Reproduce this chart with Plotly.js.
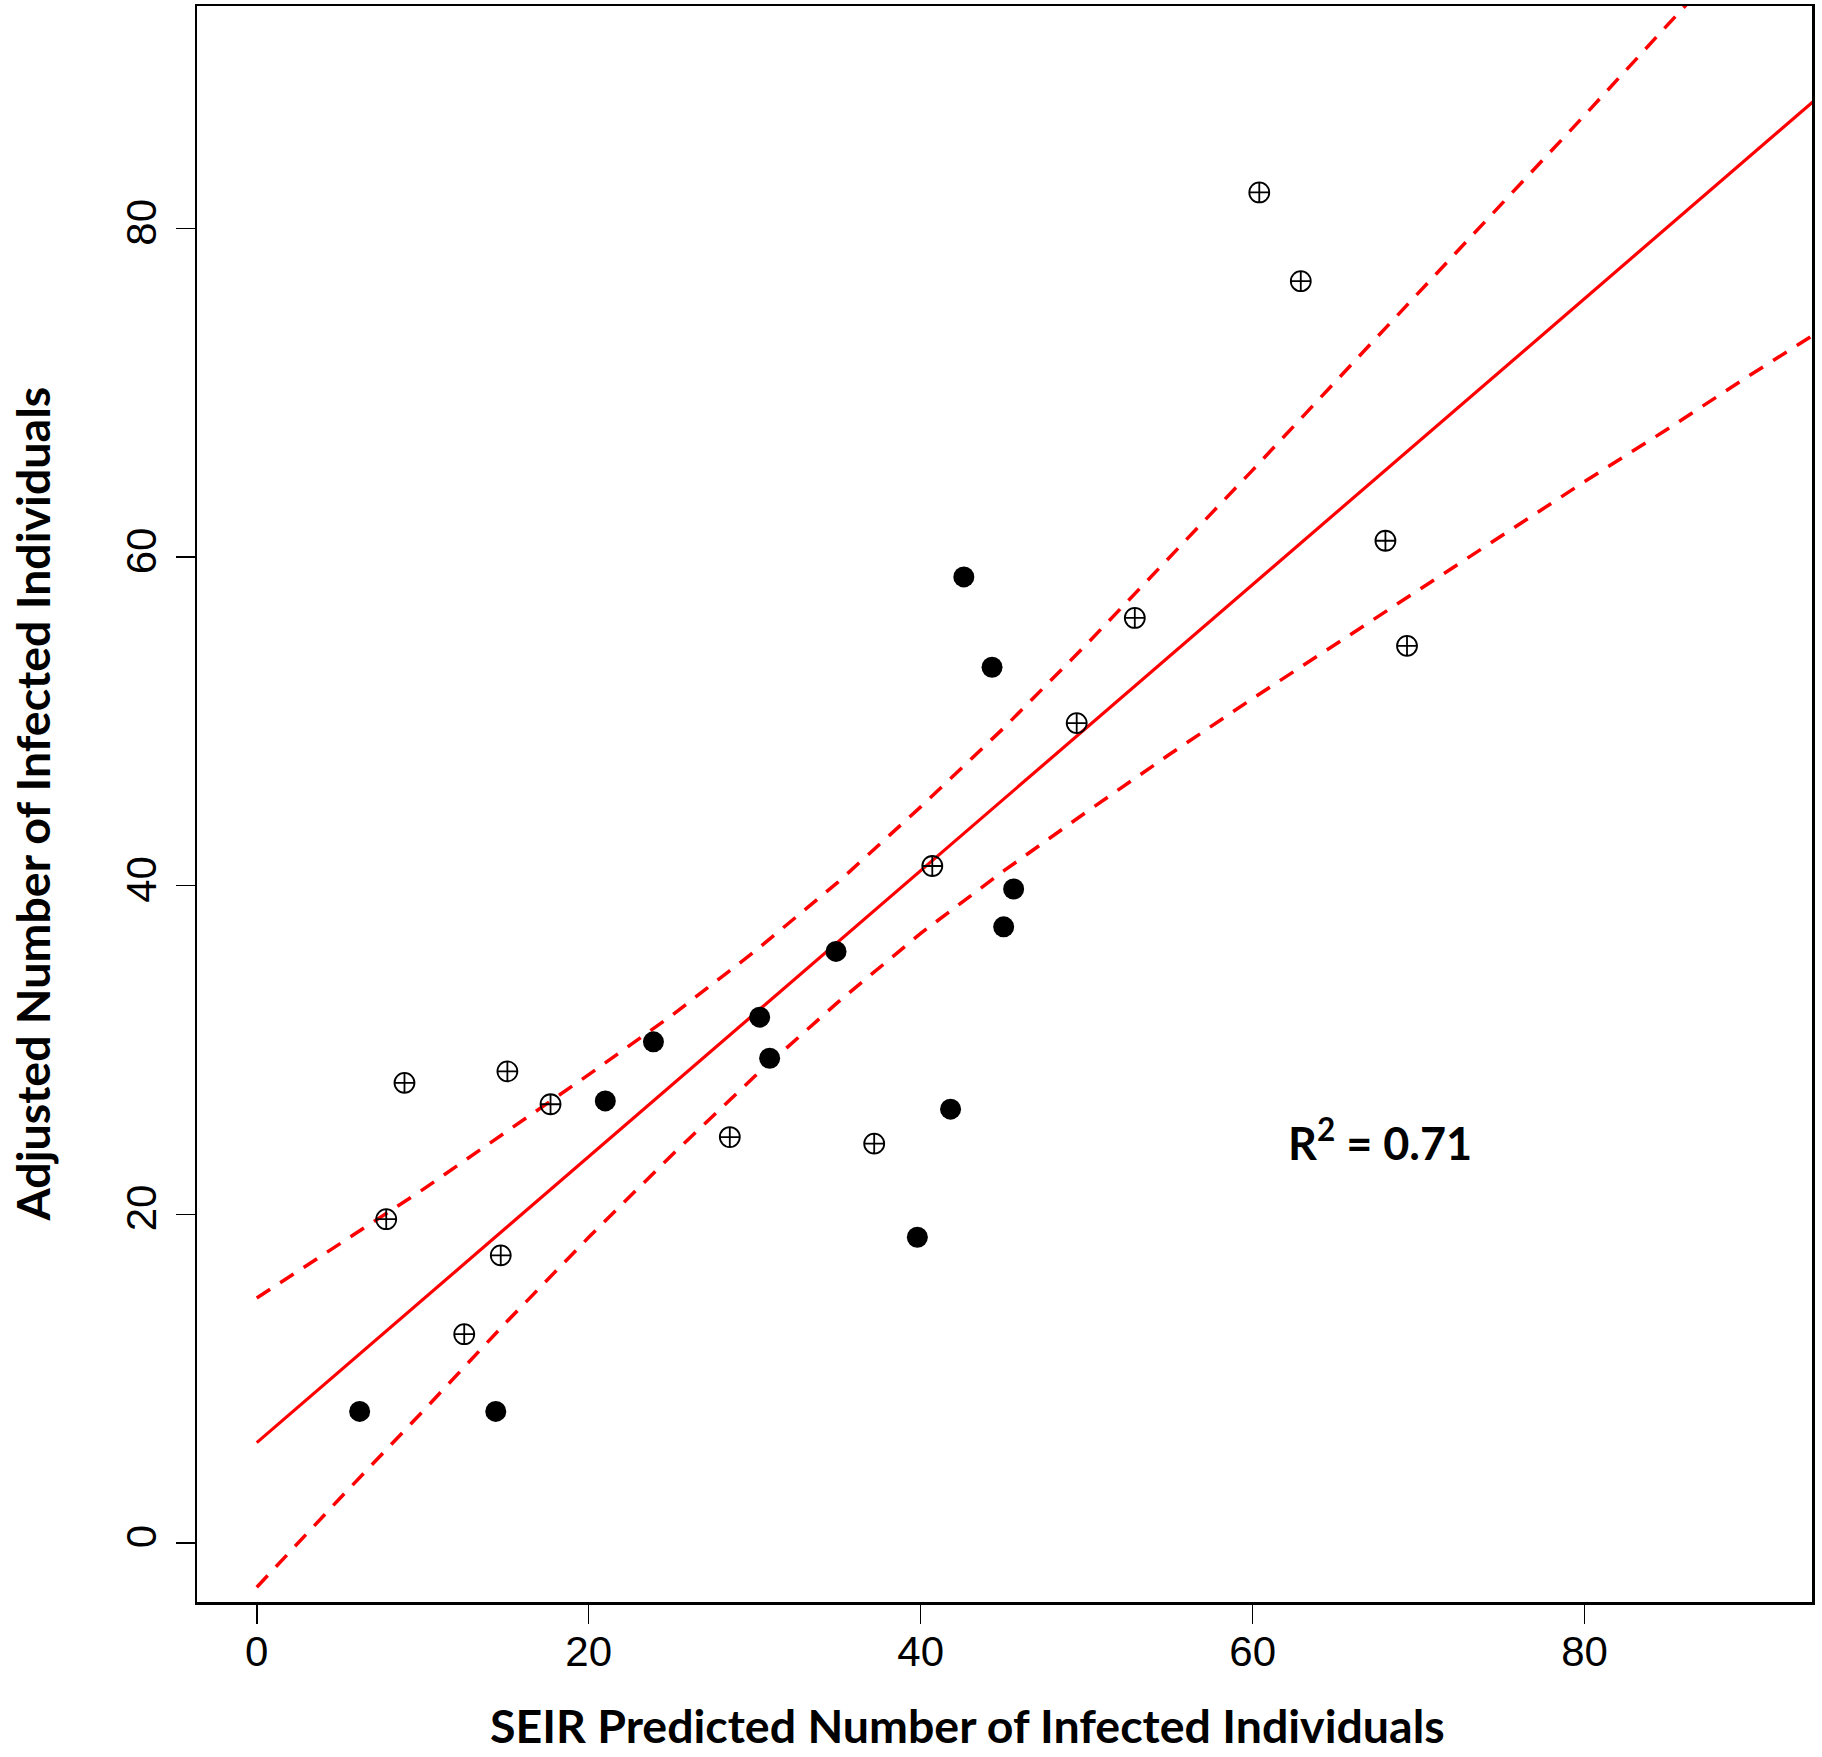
<!DOCTYPE html>
<html>
<head>
<meta charset="utf-8">
<script src="https://cdn.plot.ly/plotly-3.0.1.min.js"></script>
<style>html,body{margin:0;padding:0;background:#fff;}#chart{width:1822px;height:1757px;}</style>
</head>
<body>
<div id="chart"></div>
<script>
// Filled points (observed group 1)
const filledX = [6.2, 14.4, 21.0, 23.9, 30.3, 30.9, 34.9, 39.8, 41.8, 42.6, 44.3, 45.0, 45.6];
const filledY = [8.0, 8.0, 26.9, 30.5, 32.0, 29.5, 36.0, 18.6, 26.4, 58.8, 53.3, 37.5, 39.8];
// Open crosshair points (group 2)
const openX = [7.8, 8.9, 12.5, 14.7, 15.1, 17.7, 28.5, 37.2, 40.7, 49.4, 52.9, 60.4, 62.9, 68.0, 69.3];
const openY = [19.7, 28.0, 12.7, 17.5, 28.7, 26.7, 24.7, 24.3, 41.2, 49.9, 56.3, 82.2, 76.8, 61.0, 54.6];
// Fitted regression line
const fitX = [0, 95];
const fitY = [6.1, 88.8];
// Confidence band
const bandX     = [0,    5,    10,   15,   20,   25,   30,   35,   40,   45,   50,   55,   60,   65,   70,   75,   80,   85,   90,   95];
const upperY    = [14.9, 18.2, 21.5, 25.0, 28.5, 32.1, 36.0, 40.2, 44.8, 49.6, 54.7, 60.0, 65.3, 70.7, 76.1, 81.5, 86.9, 92.4, 97.9, 103.3];
const lowerY    = [-2.7, 2.7,  8.0,  13.4, 18.6, 23.6, 28.4, 32.9, 37.1, 40.9, 44.5, 48.0, 51.4, 54.7, 58.0, 61.3, 64.6, 67.8, 71.1, 74.3];
const xTicks = [0, 20, 40, 60, 80];
const yTicks = [0, 20, 40, 60, 80];
const xTitle = 'SEIR Predicted Number of Infected Individuals';
const yTitle = 'Adjusted Number of Infected Individuals';
const r2Label = 'R<sup>2</sup> = 0.71';

const red = '#ff0000';
const traces = [
  {x: bandX, y: upperY, mode: 'lines', line: {color: red, width: 3.5, dash: '16px,12px'}, hoverinfo: 'skip', name: 'upper'},
  {x: bandX, y: lowerY, mode: 'lines', line: {color: red, width: 3.5, dash: '16px,12px'}, hoverinfo: 'skip', name: 'lower'},
  {x: fitX, y: fitY, mode: 'lines', line: {color: red, width: 3.2}, name: 'fit'},
  {x: openX, y: openY, mode: 'markers', marker: {symbol: 'circle-cross-open', size: 20, color: '#000', line: {width: 1.8, color: '#000'}}, name: 'open'},
  {x: filledX, y: filledY, mode: 'markers', marker: {symbol: 'circle', size: 21, color: '#000'}, name: 'filled'}
];

const tickFont = {family: 'Liberation Sans, Arial, sans-serif', size: 42, color: '#000'};
const titleFont = {family: 'Lato, Open Sans, sans-serif', size: 46.5, color: '#000', weight: 700};

const layout = {
  width: 1822, height: 1757,
  margin: {l: 197, r: 10, t: 6, b: 155},
  paper_bgcolor: '#fff', plot_bgcolor: '#fff',
  showlegend: false,
  xaxis: {
    range: [-3.6, 93.7], tickvals: xTicks, ticktext: xTicks.map(String),
    ticks: 'outside', ticklen: 19, tickwidth: 1.5, tickcolor: '#000',
    showline: true, mirror: true, linewidth: 2.5, linecolor: '#000',
    showgrid: false, zeroline: false, tickfont: tickFont, automargin: false,
    ticklabelstandoff: -8
  },
  yaxis: {
    range: [-3.6, 93.55], tickvals: yTicks, ticktext: yTicks.map(String), tickangle: -90,
    ticks: 'outside', ticklen: 19, tickwidth: 1.5, tickcolor: '#000',
    showline: true, mirror: true, linewidth: 2.5, linecolor: '#000',
    showgrid: false, zeroline: false, tickfont: tickFont, automargin: false,
    ticklabelstandoff: 3
  },
  annotations: [
    {
      text: r2Label, x: 67.7, y: 24.5, xref: 'x', yref: 'y',
      xanchor: 'center', yanchor: 'middle', showarrow: false,
      font: {family: 'Lato, Open Sans, sans-serif', size: 45, color: '#000', weight: 700}
    },
    {
      text: xTitle, x: 0.4768, y: -0.0768, xref: 'paper', yref: 'paper',
      xanchor: 'center', yanchor: 'middle', showarrow: false,
      font: titleFont
    },
    {
      text: yTitle, x: -0.1019, y: 0.5, xref: 'paper', yref: 'paper',
      xanchor: 'center', yanchor: 'middle', showarrow: false, textangle: -90,
      font: titleFont
    }
  ]
};

Plotly.newPlot('chart', traces, layout, {staticPlot: true, displayModeBar: false});
</script>
</body>
</html>
